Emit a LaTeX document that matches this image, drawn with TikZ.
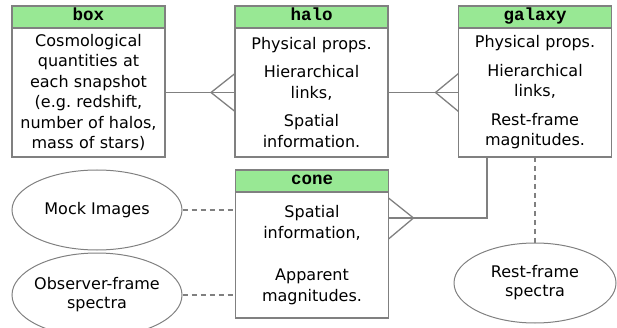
\documentclass[tikz,border=0pt]{standalone}
\usepackage{fontspec}
\setmainfont{DejaVu Sans}
\newfontfamily\headfont{Liberation Mono}
\usetikzlibrary{positioning,shapes.geometric}
\definecolor{hdgreen}{RGB}{152,232,148}
\definecolor{edgegray}{RGB}{128,128,128}
\frenchspacing
\begin{document}
\begin{tikzpicture}[x=1pt,y=1pt,
    entity/.style={draw=edgegray,line width=1.3pt,fill=white,minimum width=153pt,
      text width=150pt,align=center,inner sep=0pt,outer sep=0pt,
      font=\fontsize{16}{20.5}\selectfont},
    enthead/.style={draw=edgegray,line width=1.3pt,fill=hdgreen,minimum width=153pt,
      minimum height=22pt,text height=11pt,text depth=3pt,inner sep=0pt,outer sep=0pt,
      font=\headfont\bfseries\fontsize{17.5}{18}\selectfont},
    product/.style={ellipse,draw=edgegray,line width=1pt,inner sep=0pt,align=center,
      minimum width=170pt,minimum height=80pt,font=\fontsize{16}{19}\selectfont},
    link/.style={draw=edgegray,line width=1.3pt},
    optlink/.style={link,dash pattern=on 5pt off 4pt}]
  \useasboundingbox (0,0) rectangle (617,-328);
  \node[entity,minimum height=129pt] (boxbody) at (88.5,-92.5)
    {Cosmological\\quantities at\\each snapshot\\(e.g. redshift,\\number of halos,\\mass of stars)};
  \node[enthead,above=0pt of boxbody] (boxhead) {box};
  \node[entity,minimum height=129pt] (halobody) at (311.5,-92.5)
    {Physical props.\\[8pt]Hierarchical\\links,\\[8pt]Spatial\\information.};
  \node[enthead,above=0pt of halobody] (halohead) {halo};
  \node[entity,minimum height=129pt] (galaxybody) at (535,-92.5)
    {Physical props.\\[8pt]Hierarchical\\links,\\[8pt]Rest-frame\\magnitudes.};
  \node[enthead,above=0pt of galaxybody] (galaxyhead) {galaxy};
  \node[entity,minimum height=126pt] (conebody) at (312,-255)
    {Spatial\\information,\\[22pt]Apparent\\magnitudes.};
  \node[enthead,above=0pt of conebody] (conehead) {cone};
  \node[product] (mock) at (97,-210) {Mock Images};
  \node[product,minimum height=84pt,inner xsep=-5pt] (obsspec) at (97,-295) {Observer-frame\\spectra};
  \node[product,minimum width=162pt] (restspec) at (535,-283) {Rest-frame\\spectra};
  \draw[link] (boxbody.east) -- (halobody.west);
  \draw[link] ([yshift=19pt]halobody.west) -- ([xshift=-24pt]halobody.west)
    -- ([yshift=-19pt]halobody.west);
  \draw[link] (halobody.east) -- (galaxybody.west);
  \draw[link] ([yshift=19pt]galaxybody.west) -- ([xshift=-23pt]galaxybody.west)
    -- ([yshift=-19pt]galaxybody.west);
  \draw[link] ([xshift=-48pt]galaxybody.south) |- ([yshift=37pt]conebody.east);
  \draw[link] ([yshift=57pt]conebody.east) -- ([xshift=25pt,yshift=37pt]conebody.east)
    -- ([yshift=16pt]conebody.east);
  \draw[optlink] (galaxybody.south) -- (restspec.north);
  \draw[optlink] (mock.east) -- (mock.east -| conebody.west);
  \draw[optlink] (obsspec.east) -- (obsspec.east -| conebody.west);
\end{tikzpicture}
\end{document}
